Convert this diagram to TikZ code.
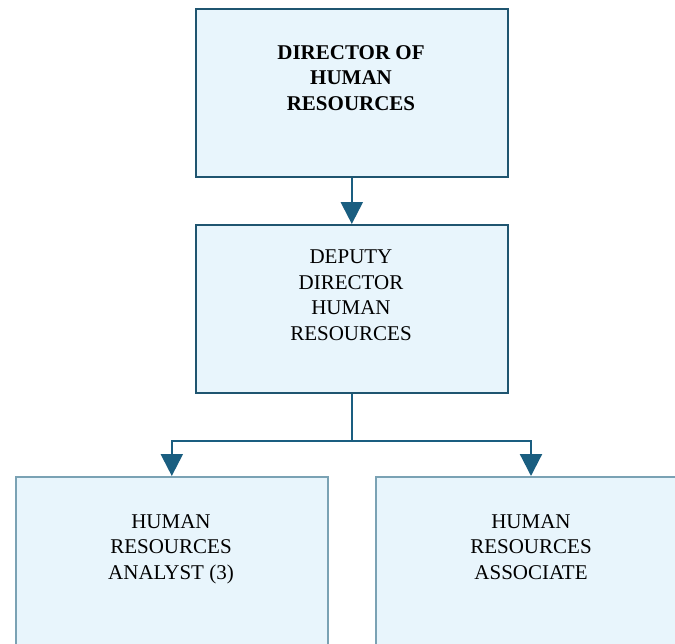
\documentclass[tikz,border=0pt]{standalone}
\usepackage{fontspec}
\setmainfont{Liberation Serif}
\usetikzlibrary{arrows.meta,positioning}
\definecolor{boxfill}{HTML}{E8F5FC}
\definecolor{boxline}{HTML}{1F5570}
\definecolor{boxlinelight}{HTML}{7AA2B4}
\definecolor{arrowcol}{HTML}{1A5E80}
\begin{document}
\begin{tikzpicture}[x=1pt,y=-1pt,
  orgbox/.style={draw=boxline,line width=1.6pt,fill=boxfill,minimum width=312pt,minimum height=168pt,inner sep=0pt,anchor=north west},
  orgboxlight/.style={orgbox,draw=boxlinelight},
  orgtext/.style={align=center,font=\fontsize{21}{25.5}\selectfont,anchor=north,inner sep=0pt},
  conn/.style={draw=arrowcol,line width=2.2pt,-{Triangle[width=22pt,length=22pt]}}]
\useasboundingbox (0,0) rectangle (675,643);
\begin{scope}
\clip (0,0) rectangle (675,643);
\node[orgbox] (dir) at (195,8) {};
\node[orgbox] (dep) at (195,224) {};
\node[orgboxlight] (ana) at (15,476) {};
\node[orgboxlight] (ass) at (375,476) {};
\node[orgtext,font=\fontsize{21}{25.5}\selectfont\bfseries] (tdir) at (351,45) {DIRECTOR OF\\HUMAN\\RESOURCES};
\node[orgtext] (tdep) at (351,250) {DEPUTY\\DIRECTOR\\HUMAN\\RESOURCES};
\node[orgtext] (tana) at (171,514) {HUMAN\\RESOURCES\\ANALYST (3)};
\node[orgtext] (tass) at (531,514) {HUMAN\\RESOURCES\\ASSOCIATE};
\coordinate (split) at (dep.south |- 0,441);
\draw[conn] (dir.south) -- (dep.north);
\draw[conn] (dep.south) -- (split) -| (ana.north);
\draw[conn] (split) -| ([xshift=156pt]ass.north west);
\end{scope}
\end{tikzpicture}
\end{document}
